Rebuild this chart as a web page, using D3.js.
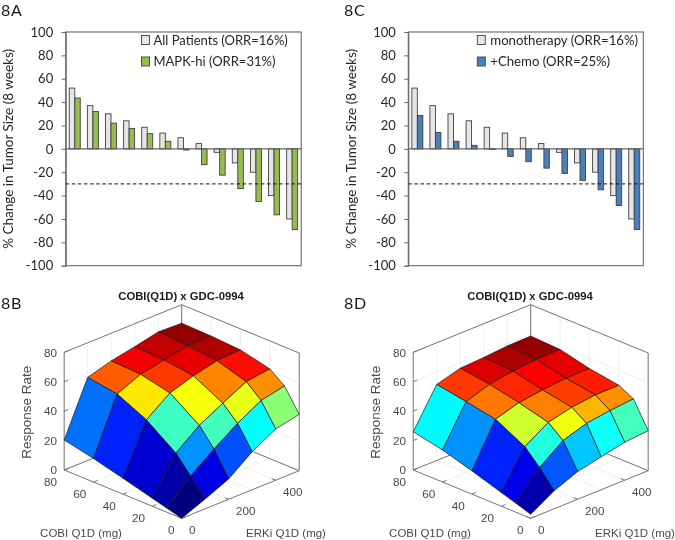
<!DOCTYPE html>
<html><head><meta charset="utf-8">
<script src="https://cdn.jsdelivr.net/npm/d3@7"></script>
<style>html,body{margin:0;padding:0;background:#fff}svg{display:block}</style>
</head><body><svg id="c" width="675" height="540"><defs><filter id="soft" x="0" y="0" width="100%" height="100%" filterUnits="userSpaceOnUse"><feGaussianBlur stdDeviation="0.35"/></filter></defs></svg>
<script>
const allPatients=[52,37,30,24,18.5,13.5,9.5,4.5,-3,-12,-20,-40,-60];
const mapkHi=[43.5,32,22,17.5,13,6.5,-1,-13.5,-22.5,-34,-45,-56.5,-69];
const plusChemo=[28.5,14,6.5,3,-0.5,-6.5,-11,-16.5,-21,-27,-35,-48.5,-69];
const yTicks=[100,80,60,40,20,0,-20,-40,-60,-80,-100];
const erkDoses=[0,100,200,300,400,500];
const cobiDoses=[0,10,20,40,60,80];
const zTicks=[0,20,40,60,80];
const cobiTicks=[0,20,40,60,80];
const erkTicks=[0,200,400];
// rows = COBI dose, columns = ERKi dose
const surfaceB=[
[0,6.7,13.8,25.9,34.8,38.3],
[2.7,18.2,30,41,50,53.5],
[5.4,29.6,42,50.6,58.8,61],
[10.8,44,55.8,61,64.8,65.7],
[16,53.4,60.3,63.5,66.8,66.9],
[20.4,56.5,61.2,64.4,68,67.4]];
const surfaceD=[
[2.7,12.3,18.8,22.4,25.8,27.2],
[6.1,23.9,35.8,41,43.2,44.7],
[9.3,34,44,47.8,49.8,49.9],
[15.8,44.4,49.2,51.4,52.9,53],
[21.8,48.2,53.5,56,57.5,57.8],
[26,51.7,56.2,57.1,58.4,58.7]];

const svg=d3.select("#c").append("g").attr("filter","url(#soft)");
svg.append("rect").attr("width",675).attr("height",540).attr("fill","#fff");
const LABEL='Lato, "Open Sans", sans-serif', ARIAL='"Liberation Sans", Arial, sans-serif';

function panelLabel(t,x,y){svg.append("text").attr("x",x).attr("y",y).attr("font-family",LABEL).attr("font-size",16).attr("letter-spacing",0.8).attr("fill","#1a1a1a").text(t);}

function bars(o){
  const g=svg.append("g");
  const y=d3.scaleLinear().domain([-100,100]).range([o.bottom,o.top]);
  const x=d3.scaleBand().domain(d3.range(o.a.length)).range([o.left,o.right]);
  const inner=d3.scaleBand().domain([0,1]).range([0,11]);
  const off=(x.bandwidth()-11)/2;
  const FR="#666";
  g.append("rect").attr("x",o.left).attr("y",o.top).attr("width",o.right-o.left).attr("height",o.bottom-o.top).attr("fill","none").attr("stroke",FR).attr("stroke-width",1.1);
  const ax=d3.axisLeft(y).tickValues(yTicks).tickSize(4).tickPadding(8.5).tickFormat(d=>d);
  const ag=g.append("g").attr("transform",`translate(${o.left},0)`).call(ax);
  ag.select(".domain").attr("stroke",FR);
  ag.selectAll("line").attr("stroke",FR);
  ag.selectAll("text").attr("font-family",LABEL).attr("font-size",13).attr("fill","#262626");
  [[o.a,0,"#e6e6e6"],[o.b,1,o.color]].forEach(([vals,k,c])=>{
    g.append("g").selectAll("rect").data(vals).join("rect")
     .attr("x",(d,i)=>x(i)+off+inner(k)).attr("width",inner.bandwidth())
     .attr("y",d=>y(Math.max(d,0))).attr("height",d=>Math.abs(y(d)-y(0)))
     .attr("fill",c).attr("stroke","#404040").attr("stroke-width",0.9);
  });
  g.append("line").attr("x1",o.left).attr("x2",o.right).attr("y1",y(0)).attr("y2",y(0)).attr("stroke",FR).attr("stroke-width",1.4);
  g.append("line").attr("x1",o.left).attr("x2",o.right).attr("y1",y(-30)).attr("y2",y(-30)).attr("stroke","#111").attr("stroke-width",1).attr("stroke-dasharray","3.5,2.6");
  g.append("text").attr("transform",`translate(${o.ylx},${(o.top+o.bottom)/2}) rotate(-90)`).attr("text-anchor","middle").attr("font-family",LABEL).attr("font-size",13.5).attr("fill","#262626").text("% Change in Tumor Size (8 weeks)");
  o.legend.forEach((l,i)=>{
    const ly=40+i*21.5;
    g.append("rect").attr("x",o.lx).attr("y",ly-4.5).attr("width",8).attr("height",9).attr("fill",i?o.color:"#e6e6e6").attr("stroke","#404040").attr("stroke-width",0.9);
    g.append("text").attr("x",o.lx+o.lgap).attr("y",ly+4.5).attr("font-family",LABEL).attr("font-size",o.lfs).attr("fill","#262626").text(l);
  });
}

function jet(t){
  const c=v=>Math.round(255*Math.max(0,Math.min(1,v)));
  const r=Math.min(4*t-1.5,-4*t+4.5),g=Math.min(4*t-0.5,-4*t+3.5),b=Math.min(4*t+0.5,-4*t+2.5);
  return `rgb(${c(r)},${c(g)},${c(b)})`;
}

function surface(o,Z){
  const g=svg.append("g");
  const xE=d3.scaleLinear().domain([0,500]).range([0,117.5]);
  const yE=d3.scaleLinear().domain([0,500]).range([0,-47.6]);
  const xC=d3.scaleLinear().domain([0,80]).range([0,-117.5]);
  const yC=d3.scaleLinear().domain([0,80]).range([0,-48.3]);
  const yZ=d3.scaleLinear().domain([0,80]).range([0,-117.7]);
  const P=(e,c,z)=>[o.ox+xE(e)+xC(c),o.oy+yE(e)+yC(c)+yZ(z)];
  const line=(a,b,col,w)=>g.append("line").attr("x1",a[0]).attr("y1",a[1]).attr("x2",b[0]).attr("y2",b[1]).attr("stroke",col).attr("stroke-width",w);
  const GRID="#e8e8e8",BOX="#777";
  zTicks.forEach(z=>{line(P(0,80,z),P(500,80,z),GRID,.7);line(P(500,0,z),P(500,80,z),GRID,.7);});
  cobiTicks.forEach(c=>{line(P(0,c,0),P(500,c,0),GRID,.7);line(P(500,c,0),P(500,c,80),GRID,.7);});
  [0,100,200,300,400,500].forEach(e=>{line(P(e,0,0),P(e,80,0),GRID,.7);line(P(e,80,0),P(e,80,80),GRID,.7);});
  line(P(0,80,0),P(0,80,80),BOX,1);line(P(500,0,0),P(500,0,80),BOX,1);line(P(500,80,0),P(500,80,80),BOX,1);
  line(P(0,80,80),P(500,80,80),BOX,1);line(P(500,0,80),P(500,80,80),BOX,1);
  line(P(0,80,0),P(500,80,0),BOX,1);line(P(500,0,0),P(500,80,0),BOX,1);
  line(P(0,0,0),P(0,80,0),BOX,1);line(P(0,0,0),P(500,0,0),BOX,1);
  zTicks.forEach(z=>{const a=P(0,80,z);line(a,[a[0]+4,a[1]-1.6],BOX,1);});
  cobiTicks.forEach(c=>{const a=P(0,c,0);line(a,[a[0]+4,a[1]-1.6],BOX,1);});
  erkTicks.forEach(e=>{const a=P(e,0,0);line(a,[a[0]-4,a[1]-1.6],BOX,1);});
  const clim=d3.scaleLinear().domain([0,d3.max(Z.flat())]).range([0,1]);
  for(let j=cobiDoses.length-2;j>=0;j--)for(let i=erkDoses.length-2;i>=0;i--){
    const pts=[[i,j],[i+1,j],[i+1,j+1],[i,j+1]].map(([a,b])=>P(erkDoses[a],cobiDoses[b],Z[b][a]));
    g.append("polygon").attr("points",pts.join(" ")).attr("fill",jet(clim(Z[j][i]))).attr("stroke","#1a1a1a").attr("stroke-width",.7).attr("stroke-linejoin","round");
  }
  const txt=(x,y,t,anc,fs)=>g.append("text").attr("x",x).attr("y",y).attr("text-anchor",anc).attr("font-family",ARIAL).attr("font-size",fs).attr("fill","#4a4a4a").text(t);
  zTicks.forEach(z=>{const a=P(0,80,z);txt(a[0]-7.3,a[1]+4.2,z,"end",11.7);});
  cobiTicks.forEach(c=>{const a=P(0,c,0);txt(a[0]-7.3,a[1]+15.8,c,"end",11.7);});
  erkTicks.forEach(e=>{const a=P(e,0,0);txt(a[0]+7.3,a[1]+15.8,e,"start",11.7);});
  txt(o.ox-100.7,o.oy+18.5,"COBI Q1D (mg)","middle",11.5);
  txt(o.ox+104.3,o.oy+18.5,"ERKi Q1D (mg)","middle",11.5);
  g.append("text").attr("transform",`translate(${o.ox-151},${o.oy-106}) rotate(-90)`).attr("text-anchor","middle").attr("font-family",ARIAL).attr("font-size",13.5).attr("fill","#4a4a4a").text("Response Rate");
  g.append("text").attr("x",o.ox-0.7).attr("y",o.oy-218).attr("text-anchor","middle").attr("font-family",ARIAL).attr("font-weight","bold").attr("font-size",11.3).attr("fill","#1a1a1a").text("COBI(Q1D) x GDC-0994");
}

panelLabel("8A",1,15.5);panelLabel("8C",344,15.5);panelLabel("8B",1,309);panelLabel("8D",344,309);
bars({a:allPatients,b:mapkHi,color:"#96bd50",left:65.7,right:301.2,top:32,bottom:265.7,ylx:13,lx:141.5,lgap:12,lfs:13,
  legend:["All Patients (ORR=16%)","MAPK-hi (ORR=31%)"]});
bars({a:allPatients,b:plusChemo,color:"#4a7ebf",left:408.3,right:643.3,top:32,bottom:265.7,ylx:356,lx:477.3,lgap:13,lfs:13.2,
  legend:["monotherapy (ORR=16%)","+Chemo (ORR=25%)"]});
surface({ox:181.7,oy:518.3},surfaceB);
surface({ox:530.7,oy:518.3},surfaceD);
</script></body></html>
